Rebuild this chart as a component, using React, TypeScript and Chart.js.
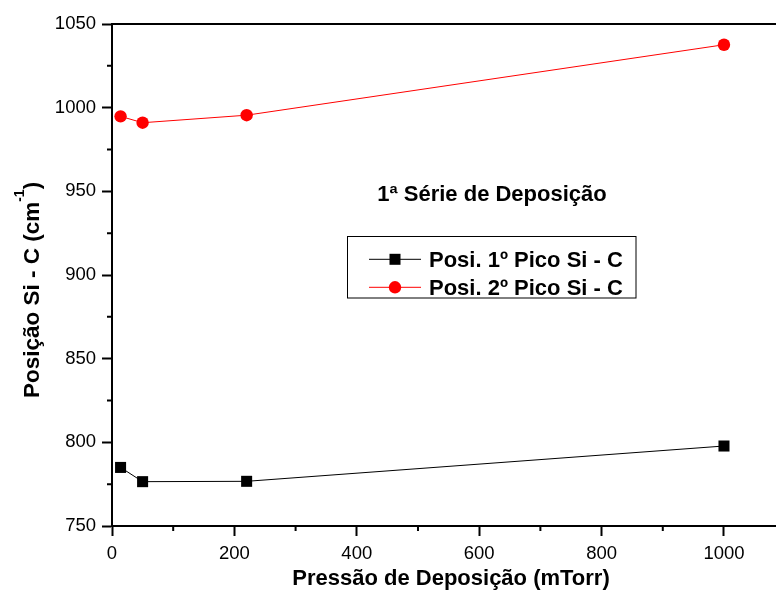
import React, { useEffect, useRef } from "react";
import { Chart, registerables } from "chart.js";

Chart.register(...registerables);

// Deposition pressure (mTorr) and Si-C peak positions (cm^-1)
const pressure = [14, 50, 220, 1000];
const firstPeak = [785, 776.5, 776.7, 797.8];
const secondPeak = [994.8, 991, 995.5, 1037.6];

const xTicks = [0, 200, 400, 600, 800, 1000];
const yTicks = [750, 800, 850, 900, 950, 1000, 1050];
const xMinor = [100, 300, 500, 700, 900];
const yMinor = [775, 825, 875, 925, 975, 1025];

const seriesLabels = ["Posi. 1º Pico Si - C", "Posi. 2º Pico Si - C"];
const seriesColors = ["#000000", "#ff0000"];
const chartTitle = "1ª Série de Deposição";
const xTitle = "Pressão de Deposição (mTorr)";
const yTitleMain = "Posição Si - C (cm";
const yTitleSup = "-1";
const yTitleEnd = ")";

const FONT = "'Liberation Sans', Arial, sans-serif";

const decorPlugin = {
  id: "decor",
  afterDraw(chart: any) {
    const { ctx, chartArea: a } = chart;
    const x = chart.scales.x;
    const y = chart.scales.y;
    ctx.save();
    ctx.strokeStyle = "#000";
    ctx.lineWidth = 2;

    // top frame line
    ctx.beginPath();
    ctx.moveTo(a.left - 1, a.top);
    ctx.lineTo(a.right, a.top);
    ctx.stroke();

    // minor ticks
    ctx.beginPath();
    xMinor.forEach((v) => {
      const px = x.getPixelForValue(v);
      ctx.moveTo(px, a.bottom);
      ctx.lineTo(px, a.bottom + 5);
    });
    yMinor.forEach((v) => {
      const py = y.getPixelForValue(v);
      ctx.moveTo(a.left, py);
      ctx.lineTo(a.left - 5, py);
    });
    ctx.stroke();

    ctx.fillStyle = "#000";

    // chart title inside plot
    ctx.font = `bold 22px ${FONT}`;
    ctx.textAlign = "center";
    ctx.textBaseline = "alphabetic";
    ctx.fillText(chartTitle, 492, 201);

    // x axis title
    ctx.font = `bold 22px ${FONT}`;
    ctx.fillText(xTitle, 451, 585);

    // y axis title with superscript
    ctx.save();
    ctx.translate(39, 290);
    ctx.rotate(-Math.PI / 2);
    ctx.textAlign = "left";
    ctx.font = `bold 22.5px ${FONT}`;
    const w1 = ctx.measureText(yTitleMain).width;
    const w3 = ctx.measureText(yTitleEnd).width;
    ctx.font = `bold 14px ${FONT}`;
    const w2 = ctx.measureText(yTitleSup).width;
    let sx = -(w1 + w2 + w3) / 2;
    ctx.font = `bold 22.5px ${FONT}`;
    ctx.fillText(yTitleMain, sx, 0);
    sx += w1;
    ctx.font = `bold 14px ${FONT}`;
    ctx.fillText(yTitleSup, sx, -15);
    sx += w2;
    ctx.font = `bold 22.5px ${FONT}`;
    ctx.fillText(yTitleEnd, sx, 0);
    ctx.restore();

    // legend
    const lx = 347.5;
    const ly = 236.5;
    const lw = 288.5;
    const lh = 61.5;
    ctx.lineWidth = 1;
    ctx.strokeStyle = "#000";
    ctx.strokeRect(lx, ly, lw, lh);
    const rows = [259.3, 287.3];
    rows.forEach((ry, i) => {
      ctx.strokeStyle = seriesColors[i];
      ctx.fillStyle = seriesColors[i];
      ctx.lineWidth = 1;
      ctx.beginPath();
      ctx.moveTo(369, ry);
      ctx.lineTo(421, ry);
      ctx.stroke();
      if (i === 0) {
        ctx.fillRect(395 - 5.5, ry - 5.5, 11, 11);
      } else {
        ctx.beginPath();
        ctx.arc(395, ry, 6.2, 0, Math.PI * 2);
        ctx.fill();
      }
      ctx.fillStyle = "#000";
      ctx.font = `bold 22px ${FONT}`;
      ctx.textAlign = "left";
      ctx.textBaseline = "alphabetic";
      ctx.fillText(seriesLabels[i], 429, ry + 7.5);
    });

    ctx.restore();
  },
};

export default function App() {
  const canvasRef = useRef<HTMLCanvasElement | null>(null);

  useEffect(() => {
    if (!canvasRef.current) return;
    const chart = new Chart(canvasRef.current, {
      type: "line",
      data: {
        datasets: [
          {
            label: seriesLabels[0],
            data: pressure.map((p, i) => ({ x: p, y: firstPeak[i] })),
            borderColor: seriesColors[0],
            backgroundColor: seriesColors[0],
            borderWidth: 1,
            pointStyle: "rect",
            pointRadius: 7.8,
            pointBorderWidth: 0,
            showLine: true,
            tension: 0,
          },
          {
            label: seriesLabels[1],
            data: pressure.map((p, i) => ({ x: p, y: secondPeak[i] })),
            borderColor: seriesColors[1],
            backgroundColor: seriesColors[1],
            borderWidth: 1,
            pointStyle: "circle",
            pointRadius: 6.2,
            pointBorderWidth: 0,
            showLine: true,
            tension: 0,
          },
        ],
      },
      options: {
        animation: false,
        responsive: false,
        maintainAspectRatio: false,
        layout: { autoPadding: false, padding: { top: 24, left: 0, right: 0, bottom: 0 } },
        plugins: {
          legend: { display: false },
          tooltip: { enabled: false },
          title: { display: false },
        },
        scales: {
          x: {
            type: "linear",
            min: 0,
            max: 1085,
            afterBuildTicks: (s: any) => {
              s.ticks = xTicks.map((v) => ({ value: v }));
            },
            afterFit: (s: any) => {
              s.height = 69;
              s.paddingLeft = 0;
              s.paddingRight = 0;
            },
            grid: {
              drawOnChartArea: false,
              drawTicks: true,
              tickLength: 10,
              tickWidth: 2,
              tickColor: "#000",
            },
            border: { display: true, color: "#000", width: 2 },
            ticks: {
              color: "#000",
              font: { family: FONT, size: 18.5 },
              padding: 7,
              maxRotation: 0,
              autoSkip: false,
              callback: (v: any) => String(v),
            },
          },
          y: {
            type: "linear",
            min: 750,
            max: 1050,
            afterBuildTicks: (s: any) => {
              s.ticks = yTicks.map((v) => ({ value: v }));
            },
            afterFit: (s: any) => {
              s.width = 112;
              s.paddingTop = 0;
              s.paddingBottom = 0;
            },
            grid: {
              drawOnChartArea: false,
              drawTicks: true,
              tickLength: 10,
              tickWidth: 2,
              tickColor: "#000",
            },
            border: { display: true, color: "#000", width: 2 },
            ticks: {
              color: "#000",
              font: { family: FONT, size: 18.5 },
              padding: 6,
              autoSkip: false,
              callback: (v: any) => String(v),
            },
          },
        },
      },
      plugins: [decorPlugin],
    } as any);
    return () => chart.destroy();
  }, []);

  return (
    <div style={{ position: "absolute", left: 0, top: 0, width: 776, height: 595, background: "#fff" }}>
      <canvas ref={canvasRef} width={776} height={595} style={{ width: 776, height: 595 }} />
    </div>
  );
}
